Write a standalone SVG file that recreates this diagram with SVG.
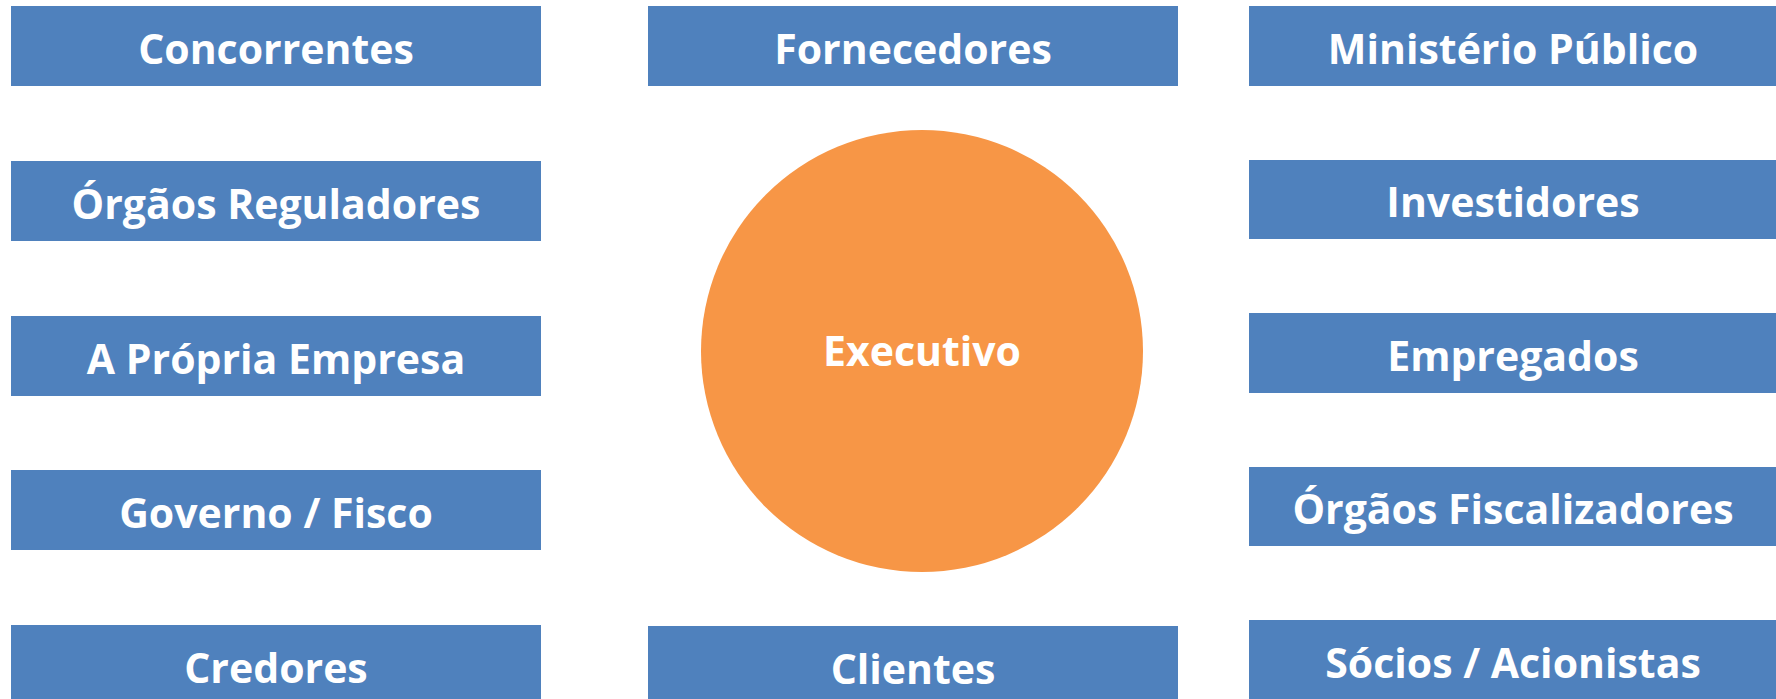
<svg xmlns="http://www.w3.org/2000/svg" width="1776" height="699" viewBox="0 0 1776 699">
<style>
.box{fill:#4F81BD;}
.lbl{font-family:"Open Sans","Noto Sans","Liberation Sans",sans-serif;font-weight:bold;font-size:41px;fill:#FFFFFF;text-anchor:middle;}
</style>
<rect width="1776" height="699" fill="#FFFFFF"/>
<g id="connectors"></g>
<g id="executivo"><circle cx="922" cy="351" r="221" fill="#F79646"/><text class="lbl" x="922" y="366">Executivo</text></g>
<g id="concorrentes"><rect class="box" x="11" y="6" width="530" height="80"/><text class="lbl" x="276" y="64">Concorrentes</text></g>
<g id="orgaos-reguladores"><rect class="box" x="11" y="161" width="530" height="80"/><text class="lbl" x="276" y="219">Órgãos Reguladores</text></g>
<g id="propria-empresa"><rect class="box" x="11" y="316" width="530" height="80"/><text class="lbl" x="276" y="374">A Própria Empresa</text></g>
<g id="governo-fisco"><rect class="box" x="11" y="470" width="530" height="80"/><text class="lbl" x="276" y="528">Governo / Fisco</text></g>
<g id="credores"><rect class="box" x="11" y="625" width="530" height="80"/><text class="lbl" x="276" y="683">Credores</text></g>
<g id="fornecedores"><rect class="box" x="648" y="6" width="530" height="80"/><text class="lbl" x="913" y="64">Fornecedores</text></g>
<g id="clientes"><rect class="box" x="648" y="626" width="530" height="80"/><text class="lbl" x="913" y="684">Clientes</text></g>
<g id="ministerio-publico"><rect class="box" x="1249" y="6" width="527" height="80"/><text class="lbl" x="1513" y="64">Ministério Público</text></g>
<g id="investidores"><rect class="box" x="1249" y="160" width="527" height="79"/><text class="lbl" x="1513" y="217">Investidores</text></g>
<g id="empregados"><rect class="box" x="1249" y="313" width="527" height="80"/><text class="lbl" x="1513" y="371">Empregados</text></g>
<g id="orgaos-fiscalizadores"><rect class="box" x="1249" y="467" width="527" height="79"/><text class="lbl" x="1513" y="524">Órgãos Fiscalizadores</text></g>
<g id="socios-acionistas"><rect class="box" x="1249" y="620" width="527" height="80"/><text class="lbl" x="1513" y="678">Sócios / Acionistas</text></g>
</svg>
